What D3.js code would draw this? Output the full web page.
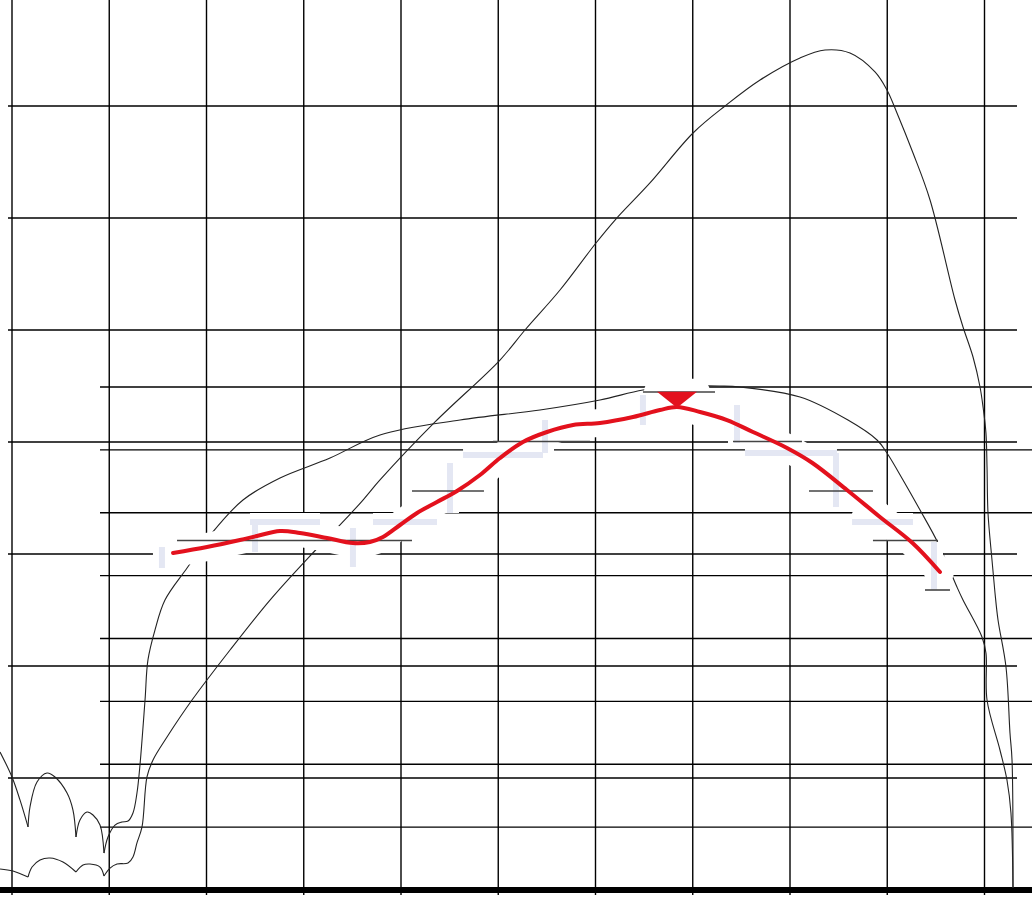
<!DOCTYPE html>
<html>
<head>
<meta charset="utf-8">
<script src="https://cdn.jsdelivr.net/npm/d3@7"></script>
<style>
body { margin: 0; background: #fff; }
svg { display: block; }
</style>
</head>
<body>
<div id="chart"></div>
<script>
// grid: vertical columns, coarse rows, fine rows
const columns = d3.range(0, 11);
const coarseRows = d3.range(1, 8);
const fineRows = d3.range(1, 9);

// tall response curve (x in columns, y in coarse rows), last value 1 = cusp
const curveTall = [
	[-0.123, 0.188], [0.010, 0.170], [0.165, 0.116, 1], [0.206, 0.205], [0.288, 0.268],
	[0.391, 0.286], [0.524, 0.250], [0.658, 0.161, 1], [0.730, 0.223], [0.802, 0.232],
	[0.905, 0.205], [0.946, 0.125, 1], [1.008, 0.196], [1.080, 0.232], [1.193, 0.241],
	[1.244, 0.295], [1.285, 0.420], [1.337, 0.563], [1.388, 1.009], [1.450, 1.161],
	[1.594, 1.366], [1.851, 1.696], [2.242, 2.143], [2.653, 2.589], [3.044, 2.964],
	[3.373, 3.259], [3.609, 3.482], [3.784, 3.661], [4.350, 4.179], [5.018, 4.732],
	[5.275, 5.000], [5.635, 5.357], [6.005, 5.777], [6.201, 5.982], [6.560, 6.313],
	[7.003, 6.759], [7.332, 7.000], [7.692, 7.232], [8.103, 7.429], [8.360, 7.500],
	[8.617, 7.473], [8.874, 7.304], [8.997, 7.143], [9.100, 6.938], [9.265, 6.580],
	[9.440, 6.161], [9.697, 5.268], [9.779, 5.027], [9.882, 4.759], [9.954, 4.491],
	[9.985, 4.313], [10.015, 4.080], [10.026, 3.777], [10.036, 3.366], [10.077, 2.946],
	[10.108, 2.652], [10.139, 2.411], [10.221, 1.991], [10.262, 1.402], [10.283, 1.161],
	[10.293, 0.018]
];

// wide response curve
const curveWide = [
	[-0.123, 1.232], [0.000, 1.009], [0.082, 0.804], [0.165, 0.563, 1], [0.185, 0.741],
	[0.257, 0.964], [0.360, 1.045], [0.442, 1.009], [0.566, 0.866], [0.627, 0.714],
	[0.658, 0.473, 1], [0.699, 0.625], [0.771, 0.696], [0.833, 0.670], [0.905, 0.580],
	[0.946, 0.330, 1], [0.987, 0.473], [1.059, 0.580], [1.131, 0.607], [1.193, 0.616],
	[1.244, 0.688], [1.285, 0.866], [1.316, 1.116], [1.368, 1.696], [1.398, 2.054],
	[1.470, 2.321], [1.573, 2.589], [1.800, 2.875], [2.057, 3.188], [2.375, 3.482],
	[2.756, 3.679], [3.270, 3.857], [3.784, 4.063], [4.607, 4.196], [5.429, 4.286],
	[6.046, 4.375], [6.488, 4.464], [6.869, 4.500], [7.280, 4.500], [7.486, 4.491],
	[8.103, 4.402], [8.596, 4.196], [8.895, 4.018], [8.997, 3.902], [9.162, 3.661],
	[9.337, 3.393], [9.522, 3.098], [9.717, 2.705], [9.779, 2.589], [9.974, 2.259],
	[10.015, 2.116], [10.026, 1.696], [10.159, 1.250], [10.231, 0.982], [10.272, 0.688],
	[10.293, 0.018]
];

// red trace (x in columns, y in step levels)
const redTrace = [
	[1.656, 0.747], [2.005, 0.869], [2.344, 1.010], [2.519, 1.091], [2.756, 1.192],
	[2.961, 1.152], [3.239, 1.051], [3.506, 0.949], [3.681, 0.970], [3.815, 1.071],
	[3.990, 1.313], [4.165, 1.556], [4.370, 1.778], [4.576, 2.000], [4.812, 2.323],
	[5.018, 2.667], [5.254, 2.990], [5.501, 3.192], [5.769, 3.333], [6.046, 3.374],
	[6.386, 3.495], [6.663, 3.636], [6.838, 3.697], [7.075, 3.596], [7.352, 3.434],
	[7.619, 3.192], [7.969, 2.869], [8.231, 2.566], [8.586, 2.020], [8.925, 1.475],
	[9.260, 0.949], [9.542, 0.364]
];

// step levels: [from, to, level]
const steps = [
	[1.697, 4.113, 1], [4.113, 4.853, 2], [4.946, 5.943, 3], [6.488, 7.229, 4],
	[7.414, 8.123, 3], [8.195, 8.853, 2], [8.853, 9.522, 1], [9.388, 9.645, 0]
];

// pale bars: [x1, y1, x2, y2]
const paleBars = [
	[1.542, 0.869, 1.542, 0.444], [2.499, 1.414, 2.499, 0.768], [2.447, 1.374, 3.167, 1.374],
	[3.506, 1.253, 3.506, 0.465], [3.712, 1.374, 4.370, 1.374], [4.504, 2.566, 4.504, 1.556],
	[4.638, 2.727, 5.460, 2.727], [5.481, 3.434, 5.481, 2.768], [6.488, 3.939, 6.488, 3.333],
	[7.455, 3.737, 7.455, 2.970], [7.537, 2.768, 8.483, 2.768], [8.473, 2.768, 8.473, 1.677],
	[8.638, 1.374, 9.265, 1.374], [9.481, 0.970, 9.481, 0.000]
];

// peak marker (x, level)
const peak = [6.838, 3.68];

const width = 1032;
const height = 912;

const x = d3.scaleLinear().domain([0, 10]).range([12, 984.5]);
const yCoarse = d3.scaleLinear().domain([0, 7]).range([890, 106]);
const yFine = d3.scaleLinear().domain([0, 8]).range([890, 387]);
const yStep = d3.scaleLinear().domain([0, 4]).range([590, 392]);

let svg = d3.select("#chart")
	.append("svg")
	.attr("width", width)
	.attr("height", height);

// grid
svg.append("g").selectAll("line").data(columns).enter()
	.append("line")
	.attr("x1", d => x(d)).attr("x2", d => x(d))
	.attr("y1", 0).attr("y2", 895)
	.attr("stroke", "#000").attr("stroke-width", 1.4);

svg.append("g").selectAll("line").data(coarseRows).enter()
	.append("line")
	.attr("x1", 8).attr("x2", 1017)
	.attr("y1", d => yCoarse(d)).attr("y2", d => yCoarse(d))
	.attr("stroke", "#000").attr("stroke-width", 1.4);

svg.append("g").selectAll("line").data(fineRows).enter()
	.append("line")
	.attr("x1", 100).attr("x2", width)
	.attr("y1", d => yFine(d)).attr("y2", d => yFine(d))
	.attr("stroke", "#000").attr("stroke-width", 1.4);

svg.append("line")
	.attr("x1", 0).attr("x2", width)
	.attr("y1", yCoarse(0)).attr("y2", yCoarse(0))
	.attr("stroke", "#000").attr("stroke-width", 6);

// split a curve at its cusps so the corners stay sharp
function pieces(points) {
	let out = [[]];
	points.forEach((p) => {
		out[out.length - 1].push(p);
		if (p[2]) out.push([p]);
	});
	return out;
}

const thinLine = d3.line()
	.x(d => x(d[0]))
	.y(d => yCoarse(d[1]))
	.curve(d3.curveCatmullRom.alpha(0.5));

[curveTall, curveWide].forEach((c) => {
	svg.append("g").selectAll("path").data(pieces(c)).enter()
		.append("path")
		.attr("d", thinLine)
		.attr("fill", "none")
		.attr("stroke", "#222")
		.attr("stroke-width", 1.1);
});

// overlay
const redLine = d3.line()
	.x(d => x(d[0]))
	.y(d => yStep(d[1]))
	.curve(d3.curveCatmullRom.alpha(0.5));

function triangle(p) {
	const cx = x(p[0]), cy = yStep(p[1]);
	return `M${cx - 20},${cy - 16}L${cx + 20},${cy - 16}L${cx},${cy}Z`;
}

// white halos
svg.append("path")
	.attr("d", redLine(redTrace))
	.attr("fill", "none")
	.attr("stroke", "#fff")
	.attr("stroke-width", 28)
	.attr("stroke-linecap", "round");

svg.append("g").selectAll("line").data(paleBars).enter()
	.append("line")
	.attr("x1", d => x(d[0])).attr("y1", d => yStep(d[1]))
	.attr("x2", d => x(d[2])).attr("y2", d => yStep(d[3]))
	.attr("stroke", "#fff").attr("stroke-width", 18);

svg.append("path")
	.attr("d", triangle(peak))
	.attr("fill", "#fff")
	.attr("stroke", "#fff")
	.attr("stroke-width", 26)
	.attr("stroke-linejoin", "round");

// pale bars
svg.append("g").selectAll("line").data(paleBars).enter()
	.append("line")
	.attr("x1", d => x(d[0])).attr("y1", d => yStep(d[1]))
	.attr("x2", d => x(d[2])).attr("y2", d => yStep(d[3]))
	.attr("stroke", "#e4e7f3").attr("stroke-width", 6);

// step levels
svg.append("g").selectAll("line").data(steps).enter()
	.append("line")
	.attr("x1", d => x(d[0])).attr("x2", d => x(d[1]))
	.attr("y1", d => yStep(d[2])).attr("y2", d => yStep(d[2]))
	.attr("stroke", "#444").attr("stroke-width", 1.6);

svg.append("path")
	.attr("d", redLine(redTrace))
	.attr("fill", "none")
	.attr("stroke", "#e3111d")
	.attr("stroke-width", 4)
	.attr("stroke-linecap", "round");

svg.append("path")
	.attr("d", triangle(peak))
	.attr("fill", "#e3111d");
</script>
</body>
</html>
